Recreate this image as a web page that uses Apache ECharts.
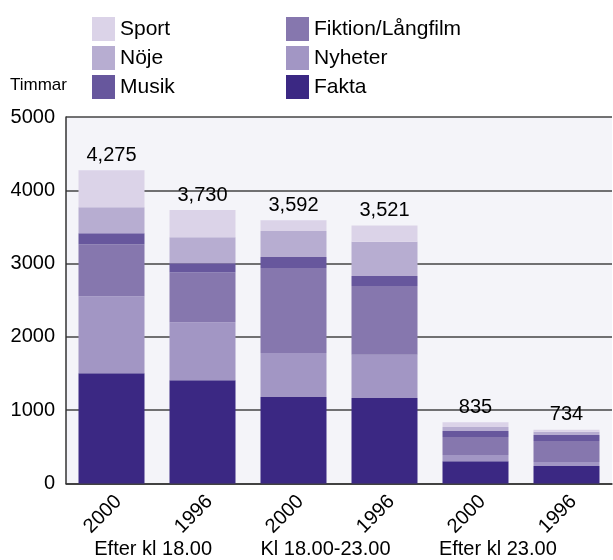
<!DOCTYPE html>
<html>
<head>
<meta charset="utf-8">
<script src="https://cdn.jsdelivr.net/npm/echarts@6/dist/echarts.min.js"></script>
<style>
    html, body { margin: 0; padding: 0; background: #fff; }
    #chart { width: 613px; height: 560px; }
</style>
</head>
<body>
<div id="chart"></div>
<script>
'use strict'

const years = ['2000', '1996', '2000', '1996', '2000', '1996']
const periods = ['Efter kl 18.00', 'Kl 18.00-23.00', 'Efter kl 23.00']
const yTicks = [0, 1000, 2000, 3000, 4000, 5000]

// timmar per kategori, nerifrån och upp i stapeln
const fakta = [1505, 1410, 1180, 1165, 305, 240]
const nyheter = [1050, 790, 600, 590, 85, 55]
const fiktion = [710, 680, 1160, 940, 245, 285]
const musik = [150, 125, 150, 137, 80, 80]
const noje = [355, 355, 355, 465, 55, 45]
const sport = [505, 370, 147, 224, 65, 29]
const totals = ['4,275', '3,730', '3,592', '3,521', '835', '734']

const font = '"Liberation Sans", Arial, sans-serif'

let chart = echarts.init(document.getElementById('chart'), null, { renderer: 'canvas' })

const barSeries = (name, data, color) => ({
    name: name,
    type: 'bar',
    stack: 'total',
    barWidth: 66,
    itemStyle: { color: color },
    emphasis: { disabled: true },
    data: data
})

const legendBase = {
    orient: 'vertical',
    top: 12,
    itemWidth: 23,
    itemHeight: 24,
    itemGap: 5,
    icon: 'rect',
    selectedMode: false,
    textStyle: {
        fontFamily: font,
        fontSize: 21,
        color: '#000',
        lineHeight: 24
    }
}

let sportSeries = barSeries('Sport', sport, '#DBD3E8')
sportSeries.label = {
    show: true,
    position: 'top',
    distance: 5,
    fontFamily: font,
    fontSize: 20,
    color: '#000',
    formatter: function (p) {
        return totals[p.dataIndex]
    }
}

const option = {
    animation: false,
    backgroundColor: '#fff',
    legend: [
        Object.assign({}, legendBase, { left: 87, data: ['Sport', 'Nöje', 'Musik'] }),
        Object.assign({}, legendBase, { left: 281, data: ['Fiktion/Långfilm', 'Nyheter', 'Fakta'] })
    ],
    graphic: [{
        type: 'text',
        left: 10,
        top: 77,
        style: {
            text: 'Timmar',
            font: '17px ' + font,
            fill: '#000'
        }
    }],
    grid: [{
        left: 66,
        right: 1,
        top: 117,
        bottom: 76.5,
        show: true,
        backgroundColor: '#F4F4F9',
        borderWidth: 0
    }, {
        left: 67,
        right: 29,
        top: 117,
        bottom: 76.5,
        show: false
    }],
    xAxis: [{
        type: 'category',
        gridIndex: 0,
        data: years,
        axisLine: { show: true, lineStyle: { color: '#333', width: 1.5 } },
        axisTick: { show: false },
        axisLabel: {
            rotate: 45,
            margin: 8,
            verticalAlign: 'top',
            fontFamily: font,
            fontSize: 20,
            color: '#000'
        }
    }, {
        type: 'category',
        gridIndex: 1,
        data: periods,
        position: 'bottom',
        offset: 48,
        axisLine: { show: false },
        axisTick: { show: false },
        axisLabel: {
            margin: 8,
            fontFamily: font,
            fontSize: 20,
            color: '#000'
        }
    }],
    yAxis: [{
        type: 'value',
        gridIndex: 0,
        min: yTicks[0],
        max: yTicks[yTicks.length - 1],
        interval: 1000,
        axisLine: { show: true, lineStyle: { color: '#333', width: 1.5 } },
        axisTick: { show: false },
        axisLabel: {
            margin: 11,
            fontFamily: font,
            fontSize: 20,
            color: '#000',
            formatter: function (val) {
                return String(val)
            }
        },
        splitLine: {
            show: true,
            lineStyle: { color: '#444', width: 1.5 }
        }
    }, {
        type: 'value',
        gridIndex: 1,
        show: false
    }],
    series: [
        barSeries('Fakta', fakta, '#3B2883'),
        barSeries('Nyheter', nyheter, '#A296C4'),
        barSeries('Fiktion/Långfilm', fiktion, '#8677AE'),
        barSeries('Musik', musik, '#67579D'),
        barSeries('Nöje', noje, '#B7ADD1'),
        sportSeries
    ]
}

chart.setOption(option)
</script>
</body>
</html>
